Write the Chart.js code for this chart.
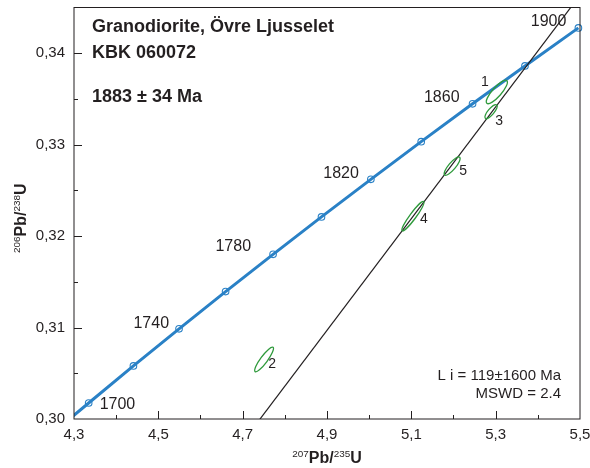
<!DOCTYPE html>
<html>
<head>
<meta charset="utf-8">
<script src="https://cdn.jsdelivr.net/npm/chart.js@4"></script>
<style>
  html, body { margin: 0; padding: 0; background: #fff; }
  #wrap { width: 590px; height: 468px; }
</style>
</head>
<body>
<div id="wrap"><canvas id="concordiaChart" width="590" height="468"></canvas></div>
<script>
// Concordia ages (Ma) and their ratios
const concordiaAges = [1680, 1700, 1720, 1740, 1760, 1780, 1800, 1820, 1840, 1860, 1880, 1900];
const concordiaX = [4.2307, 4.3348, 4.4409, 4.5491, 4.6595, 4.7721, 4.8869, 5.0040, 5.1234, 5.2452, 5.3695, 5.4962];
const concordiaY = [0.29772, 0.30175, 0.30580, 0.30986, 0.31393, 0.31801, 0.32210, 0.32621, 0.33033, 0.33447, 0.33861, 0.34277];
const labelledAges = [1700, 1740, 1780, 1820, 1860, 1900];

// Discordia (regression line) end points
const discordiaX = [4.70, 5.55];
const discordiaY = [0.29748, 0.34940];

// Analyses: centre, tip of the long axis (offset), minor/major ratio
const spotNames = ['1', '2', '3', '4', '5'];
const spotX = [5.3028, 4.7508, 5.2891, 5.1038, 5.1968];
const spotY = [0.33576, 0.30651, 0.33361, 0.32218, 0.32765];
const spotDX = [0.0237, 0.0213, 0.0137, 0.0256, 0.0178];
const spotDY = [0.00124, 0.00133, 0.00073, 0.00159, 0.00097];
const spotRatio = [0.30, 0.23, 0.34, 0.17, 0.30];

const xTicks = [4.3, 4.5, 4.7, 4.9, 5.1, 5.3, 5.5];
const yTicks = [0.30, 0.31, 0.32, 0.33, 0.34];

const FONT = '"Liberation Sans", Arial, Helvetica, sans-serif';
const INK = '#231f20';
const BLUE = '#2a81c6';
const GREEN = '#2f9a3c';

// pixel offsets for the age labels (text placement only)
const ageLabelPlace = {
    1700: { dx: 11, dy: 2, align: 'left' },
    1740: { dx: -10, dy: -5, align: 'right' },
    1780: { dx: -22, dy: -8, align: 'right' },
    1820: { dx: -12, dy: -6, align: 'right' },
    1860: { dx: -13, dy: -6, align: 'right' },
    1900: { dx: -12, dy: -6, align: 'right' }
};
const spotLabelPlace = [[-12, -10], [8, 5], [8, 9], [11, 3], [11, 5]];

// Draw a label with superscript parts
function drawSupText(ctx, parts, x, y, size) {
    let total = 0;
    parts.forEach(p => {
        ctx.font = (p.sup ? '' : 'bold ') + (p.sup ? size * 0.62 : size) + 'px ' + FONT;
        p.w = ctx.measureText(p.t).width;
        total += p.w;
    });
    let cx = x - total / 2;
    parts.forEach(p => {
        ctx.font = (p.sup ? '' : 'bold ') + (p.sup ? size * 0.62 : size) + 'px ' + FONT;
        ctx.textAlign = 'left';
        ctx.textBaseline = 'alphabetic';
        ctx.fillText(p.t, cx, p.sup ? y - size * 0.38 : y);
        cx += p.w;
    });
}

const decorPlugin = {
    id: 'decor',
    afterDatasetsDraw(chart) {
        const ctx = chart.ctx;
        const xs = chart.scales.x;
        const ys = chart.scales.y;
        const area = chart.chartArea;

        ctx.save();
        // frame
        ctx.strokeStyle = INK;
        ctx.lineWidth = 1;
        ctx.strokeRect(area.left, area.top, area.right - area.left, area.bottom - area.top);

        // inward ticks
        ctx.beginPath();
        for (let v = 4.4; v < 5.45; v += 0.1) {
            const px = Math.round(xs.getPixelForValue(v)) + 0.5;
            const major = Math.round(v * 10) % 2 === 1;
            ctx.moveTo(px, area.bottom);
            ctx.lineTo(px, area.bottom - (major ? 8 : 4));
        }
        for (let v = 0.305; v < 0.3445; v += 0.005) {
            const py = Math.round(ys.getPixelForValue(v)) + 0.5;
            const major = Math.round(v * 1000) % 10 === 0;
            ctx.moveTo(area.left, py);
            ctx.lineTo(area.left + (major ? 8 : 4), py);
        }
        ctx.stroke();

        // error ellipses
        ctx.strokeStyle = GREEN;
        ctx.lineWidth = 1.3;
        spotNames.forEach((name, i) => {
            const cx = xs.getPixelForValue(spotX[i]);
            const cy = ys.getPixelForValue(spotY[i]);
            const tx = xs.getPixelForValue(spotX[i] + spotDX[i]);
            const ty = ys.getPixelForValue(spotY[i] + spotDY[i]);
            const a = Math.hypot(tx - cx, ty - cy);
            const ang = Math.atan2(ty - cy, tx - cx);
            ctx.beginPath();
            ctx.ellipse(cx, cy, a, a * spotRatio[i], ang, 0, Math.PI * 2);
            ctx.stroke();
        });

        // ellipse numbers
        ctx.fillStyle = INK;
        ctx.font = '14px ' + FONT;
        ctx.textAlign = 'center';
        ctx.textBaseline = 'middle';
        spotNames.forEach((name, i) => {
            const cx = xs.getPixelForValue(spotX[i]);
            const cy = ys.getPixelForValue(spotY[i]);
            ctx.fillText(name, cx + spotLabelPlace[i][0], cy + spotLabelPlace[i][1]);
        });

        // age labels on the concordia
        ctx.font = '16px ' + FONT;
        labelledAges.forEach(age => {
            const i = concordiaAges.indexOf(age);
            const p = ageLabelPlace[age];
            ctx.textAlign = p.align;
            ctx.fillText(String(age), xs.getPixelForValue(concordiaX[i]) + p.dx, ys.getPixelForValue(concordiaY[i]) + p.dy);
        });

        // sample text
        ctx.textAlign = 'left';
        ctx.font = 'bold 18px ' + FONT;
        ctx.fillText('Granodiorite, Övre Ljusselet', area.left + 18, 27);
        ctx.fillText('KBK 060072', area.left + 18, 53);
        ctx.fillText('1883 ± 34 Ma', area.left + 18, 97);

        ctx.textAlign = 'right';
        ctx.font = '15px ' + FONT;
        ctx.fillText('L i = 119±1600 Ma', area.right - 19, 376);
        ctx.fillText('MSWD = 2.4', area.right - 19, 394);

        // axis titles
        drawSupText(ctx, [{ t: '207', sup: true }, { t: 'Pb/', sup: false }, { t: '235', sup: true }, { t: 'U', sup: false }],
            (area.left + area.right) / 2, 463, 16);
        ctx.save();
        ctx.translate(26, (area.top + area.bottom) / 2 + 5);
        ctx.rotate(-Math.PI / 2);
        drawSupText(ctx, [{ t: '206', sup: true }, { t: 'Pb/', sup: false }, { t: '238', sup: true }, { t: 'U', sup: false }],
            0, 0, 16);
        ctx.restore();

        ctx.restore();
    }
};

function initConcordiaChart() {
    const ctx = document.getElementById('concordiaChart').getContext('2d');

    const curve = concordiaX.map((x, i) => ({ x: x, y: concordiaY[i] }));
    const markers = curve.filter((p, i) => concordiaAges[i] >= 1700);
    const discordia = discordiaX.map((x, i) => ({ x: x, y: discordiaY[i] }));

    const config = {
        type: 'scatter',
        data: {
            datasets: [{
                data: discordia,
                showLine: true,
                borderColor: INK,
                borderWidth: 1.2,
                pointRadius: 0
            }, {
                data: curve,
                showLine: true,
                borderColor: BLUE,
                borderWidth: 3,
                pointRadius: 0
            }, {
                data: markers,
                showLine: false,
                clip: false,
                pointRadius: 3.3,
                pointBackgroundColor: '#fff',
                pointBorderColor: BLUE,
                pointBorderWidth: 1.1
            }]
        },
        options: {
            responsive: false,
            animation: false,
            layout: { padding: { left: 0, right: 10, top: 7.5, bottom: 0 } },
            plugins: {
                legend: { display: false },
                tooltip: { enabled: false }
            },
            scales: {
                x: {
                    type: 'linear',
                    min: 4.3,
                    max: 5.5,
                    afterBuildTicks: scale => { scale.ticks = xTicks.map(v => ({ value: v })); },
                    afterFit: scale => {
                        scale.height = 49;
                        scale.paddingLeft = 0;
                        scale.paddingRight = 0;
                    },
                    grid: { display: false, drawTicks: false },
                    border: { display: false },
                    ticks: {
                        padding: 7,
                        color: INK,
                        font: { family: FONT, size: 15 },
                        callback: v => v.toFixed(1).replace('.', ',')
                    }
                },
                y: {
                    type: 'linear',
                    min: 0.30,
                    max: 0.345,
                    afterBuildTicks: scale => { scale.ticks = yTicks.map(v => ({ value: v })); },
                    afterFit: scale => {
                        scale.width = 74;
                        scale.paddingTop = 0;
                        scale.paddingBottom = 0;
                    },
                    grid: { display: false, drawTicks: false },
                    border: { display: false },
                    ticks: {
                        padding: 9,
                        color: INK,
                        font: { family: FONT, size: 15 },
                        callback: v => v.toFixed(2).replace('.', ',')
                    }
                }
            }
        },
        plugins: [decorPlugin]
    };

    new Chart(ctx, config);
}

document.addEventListener('DOMContentLoaded', () => {
    initConcordiaChart();
});
</script>
</body>
</html>
